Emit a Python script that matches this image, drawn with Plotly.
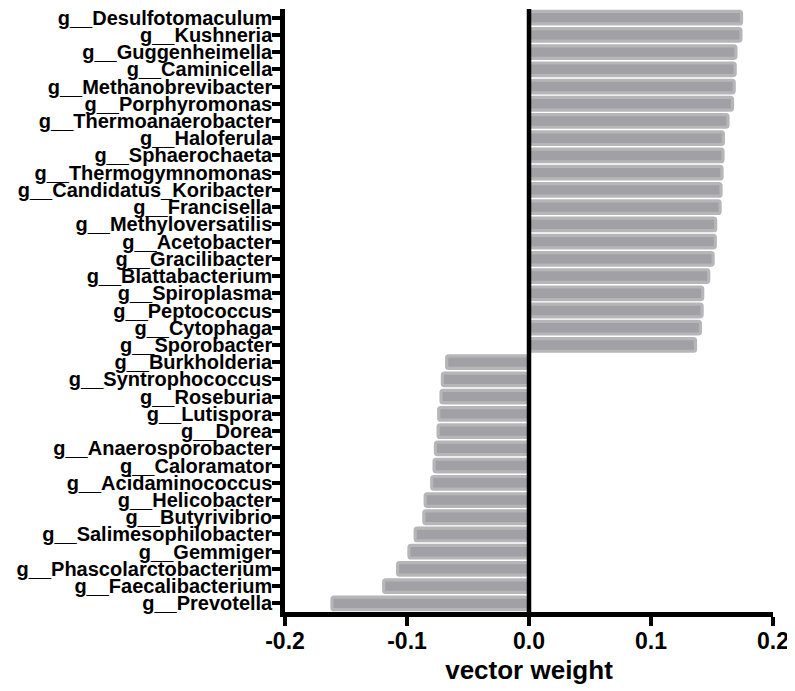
import plotly.graph_objects as go

genera = [
    "g__Desulfotomaculum", "g__Kushneria", "g__Guggenheimella", "g__Caminicella",
    "g__Methanobrevibacter", "g__Porphyromonas", "g__Thermoanaerobacter", "g__Haloferula",
    "g__Sphaerochaeta", "g__Thermogymnomonas", "g__Candidatus_Koribacter", "g__Francisella",
    "g__Methyloversatilis", "g__Acetobacter", "g__Gracilibacter", "g__Blattabacterium",
    "g__Spiroplasma", "g__Peptococcus", "g__Cytophaga", "g__Sporobacter",
    "g__Burkholderia", "g__Syntrophococcus", "g__Roseburia", "g__Lutispora",
    "g__Dorea", "g__Anaerosporobacter", "g__Caloramator", "g__Acidaminococcus",
    "g__Helicobacter", "g__Butyrivibrio", "g__Salimesophilobacter", "g__Gemmiger",
    "g__Phascolarctobacterium", "g__Faecalibacterium", "g__Prevotella",
]
weights = [
    0.1742, 0.1737, 0.1696, 0.1690, 0.1682, 0.1668, 0.1631, 0.1593,
    0.1590, 0.1582, 0.1574, 0.1566, 0.1530, 0.1527, 0.1509, 0.1473,
    0.1424, 0.1419, 0.1405, 0.1365,
    -0.0675, -0.0710, -0.0721, -0.0740, -0.0745, -0.0767, -0.0778, -0.0797,
    -0.0851, -0.0862, -0.0933, -0.0984, -0.1077, -0.1191, -0.1615,
]
x_ticks = [-0.2, -0.1, 0.0, 0.1, 0.2]
x_tick_text = ["-0.2", "-0.1", "0.0", "0.1", "0.2"]

FONT = "Arial, 'Liberation Sans', Helvetica, sans-serif"

fig = go.Figure(go.Bar(
    x=weights,
    y=genera,
    orientation="h",
    marker=dict(color="#a1a0a5", line=dict(color="#b6b6b9", width=3.2), cornerradius=2),
))

# page body has an 8px default margin, so the figure is sized 8px smaller
fig.update_layout(
    width=787, height=683,
    margin=dict(l=276.5, r=22, t=1.4, b=79.4),
    plot_bgcolor="white", paper_bgcolor="white",
    bargap=0.27,
    showlegend=False,
    font=dict(family=FONT, color="black", weight="bold"),
)
fig.update_xaxes(
    range=[-0.2, 0.2],
    tickmode="array", tickvals=x_ticks, ticktext=x_tick_text,
    tickfont=dict(size=23, family=FONT, weight="bold", color="black"),
    showline=True, linecolor="black", linewidth=4.5,
    ticks="outside", ticklen=9, tickwidth=4, tickcolor="black",
    ticklabelstandoff=-4,
    showgrid=False,
    zeroline=False,
    automargin=False,
    title=dict(text="vector weight", font=dict(size=26, family=FONT, weight="bold", color="black"), standoff=9),
)
fig.update_yaxes(
    type="category",
    categoryorder="array", categoryarray=genera,
    tickmode="array", tickvals=genera, ticktext=genera,
    range=[34.5, -0.5],
    tickfont=dict(size=20, family=FONT, weight="bold", color="black"),
    showline=True, linecolor="black", linewidth=4.5,
    ticks="outside", ticklen=8, tickwidth=4, tickcolor="black",
    ticklabelstandoff=-4,
    showgrid=False,
    automargin=False,
)
fig.add_shape(type="line", xref="x", yref="paper", x0=0, x1=0, y0=0, y1=1,
              line=dict(color="black", width=4.5), layer="above")

fig.write_html("out.html")
